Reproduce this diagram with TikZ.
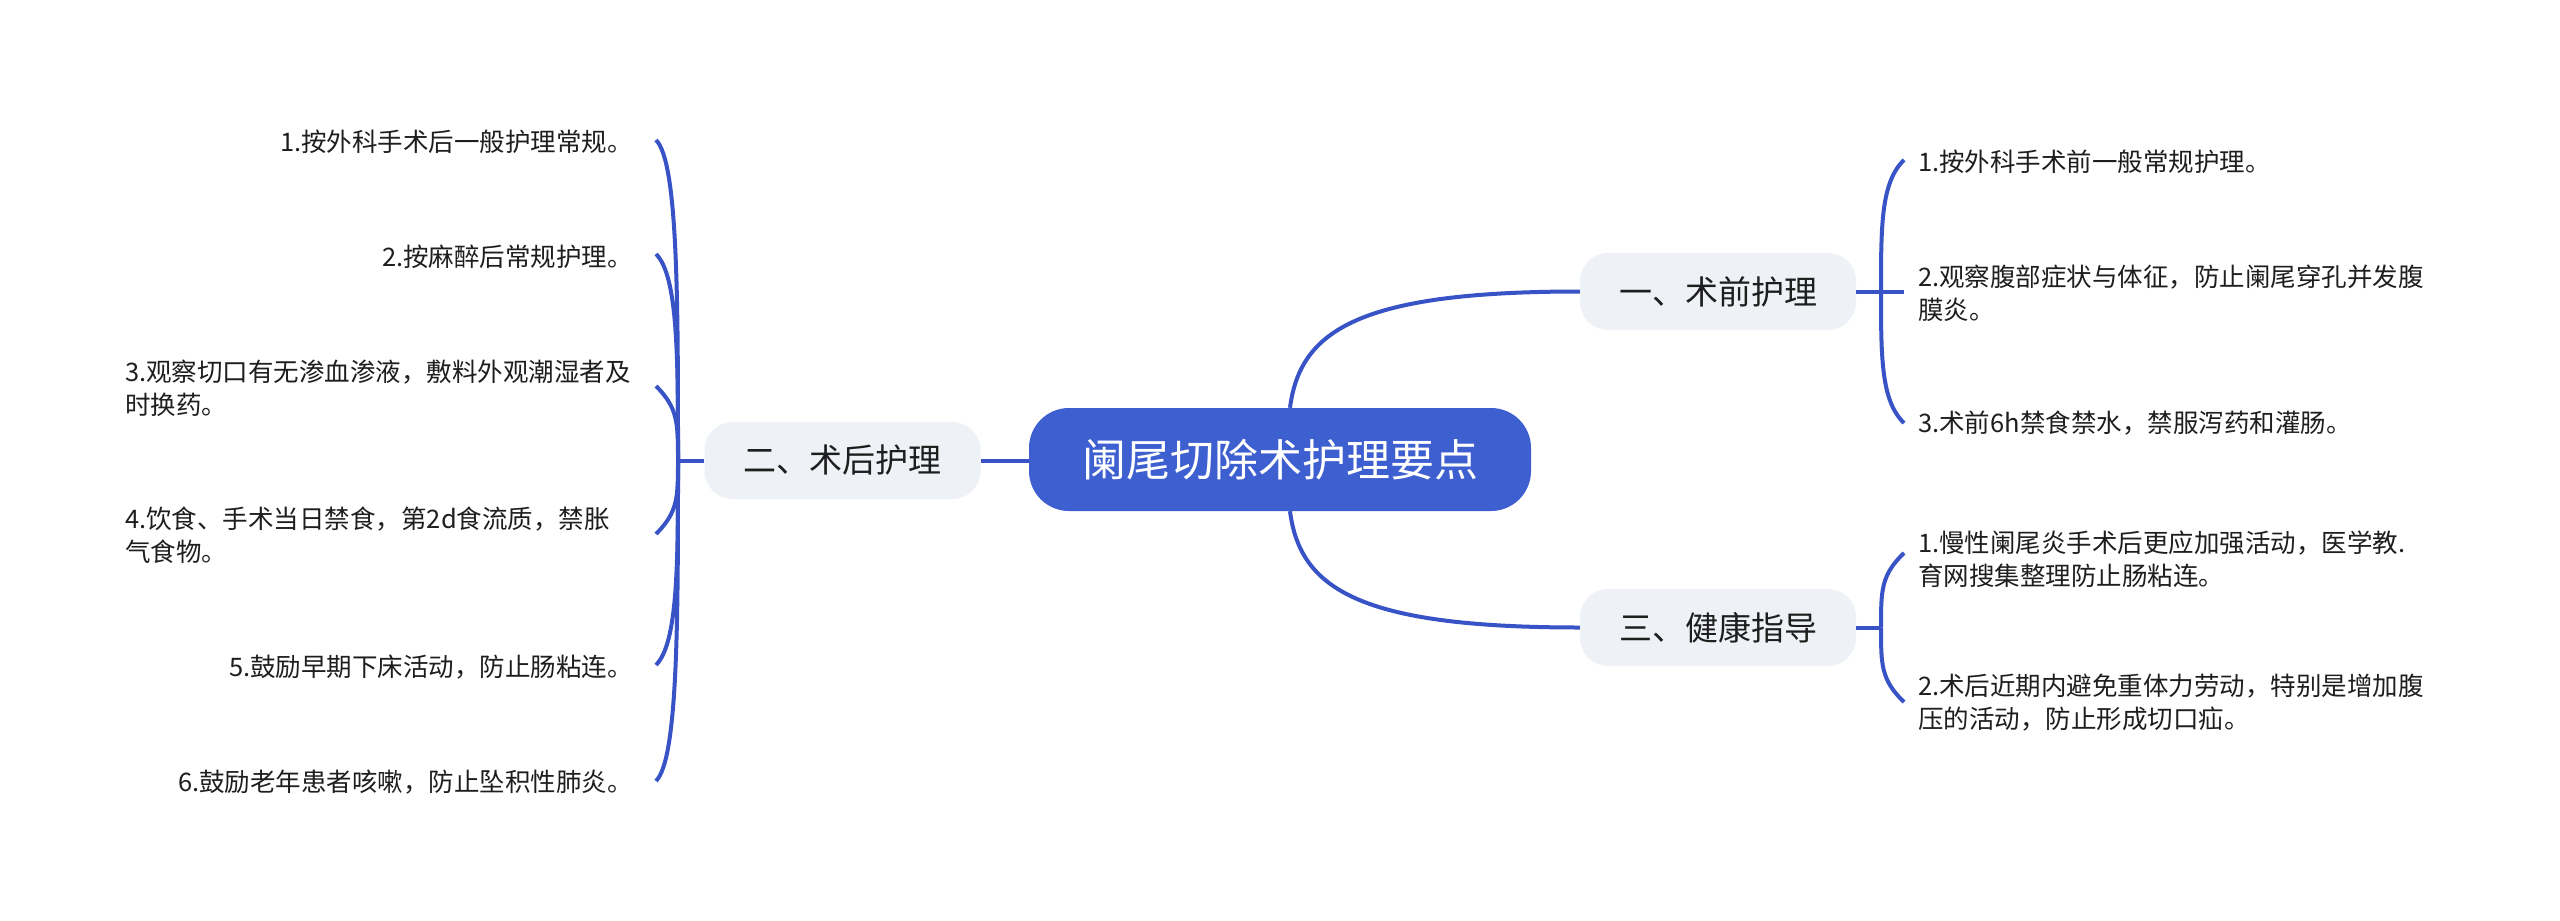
\documentclass[tikz,border=0pt]{standalone}
\usepackage{fontspec}
\setmainfont{Noto Sans CJK SC}
\usetikzlibrary{calc}
\definecolor{mainblue}{HTML}{3D5FCF}
\definecolor{lineblue}{HTML}{3753C6}
\definecolor{subfill}{HTML}{EEF1F5}
\definecolor{txt}{HTML}{1E1E1E}
\begin{document}
\begin{tikzpicture}[x=1pt,y=-1pt,
  conn/.style={draw=lineblue, line width=4pt},
  central/.style={fill=mainblue, rounded corners=40pt, minimum width=502pt, minimum height=103pt, inner sep=0pt, text=white, font=\fontsize{44}{52}\selectfont},
  branch/.style={fill=subfill, rounded corners=28pt, minimum width=276pt, minimum height=77pt, inner sep=0pt, text=txt, font=\fontsize{33}{40}\selectfont},
  leaf/.style={align=left, inner sep=0pt, text=txt, font=\fontsize{25.5}{33}\selectfont},
  leafL/.style={leaf, anchor=east},
  leafR/.style={leaf, anchor=west},
]
\useasboundingbox[fill=white] (0,0) rectangle (2560,921);

% main nodes
\node[central] (c) at (1280,459.5) {阑尾切除术护理要点};
\node[branch] (b1) at (1718,291.5) {一、术前护理};
\node[branch] (b2) at (842.5,460.5) {二、术后护理};
\node[branch] (b3) at (1718,627.5) {三、健康指导};

% left leaves
\node[leafL] (l1) at (633,142) {1.按外科手术后一般护理常规。};
\node[leafL] (l2) at (633,257) {2.按麻醉后常规护理。};
\node[leaf, anchor=west] (l3) at (125,388) {3.观察切口有无渗血渗液，敷料外观潮湿者及\\时换药。};
\node[leaf, anchor=west] (l4) at (125,535) {4.饮食、手术当日禁食，第2d食流质，禁胀\\气食物。};
\node[leafL] (l5) at (633,667) {5.鼓励早期下床活动，防止肠粘连。};
\node[leafL] (l6) at (633,782) {6.鼓励老年患者咳嗽，防止坠积性肺炎。};

% right leaves
\node[leafR] (r1) at (1918,162) {1.按外科手术前一般常规护理。};
\node[leafR] (r2) at (1918,293) {2.观察腹部症状与体征，防止阑尾穿孔并发腹\\膜炎。};
\node[leafR] (r3) at (1918,423) {3.术前6h禁食禁水，禁服泻药和灌肠。};
\node[leafR] (r4) at (1918,559) {1.慢性阑尾炎手术后更应加强活动，医学教.\\育网搜集整理防止肠粘连。};
\node[leafR] (r5) at (1918,703) {2.术后近期内避免重体力劳动，特别是增加腹\\压的活动，防止形成切口疝。};

% junctions and hook ends
\coordinate (jL) at (678,460.5);
\coordinate (hl1) at (656,140);
\coordinate (hl2) at (656,254);
\coordinate (hl3) at (656,386);
\coordinate (hl4) at (656,534);
\coordinate (hl5) at (656,665);
\coordinate (hl6) at (656,781);
\coordinate (jR1) at (1881,291.5);
\coordinate (hr1) at (1904,160);
\coordinate (hr2) at (1904,291.5);
\coordinate (hr3) at (1904,423);
\coordinate (jR3) at (1881,627.5);
\coordinate (hr4) at (1904,553);
\coordinate (hr5) at (1904,702);

% central connectors
\draw[conn] (b2.east) -- (c.west |- b2.east);
\draw[conn] ([xshift=10pt]c.north) .. controls +(10,-78) and ($(b1.west)+(-220,0)$) .. (b1.west);
\draw[conn] ([xshift=10pt]c.south) .. controls +(10,78) and ($(b3.west)+(-220,0)$) .. (b3.west);

% left bracket
\draw[conn] (b2.west) -- (jL);
\foreach \h in {hl1,hl2,hl3,hl4,hl5,hl6}{
  \draw[conn] (jL) .. controls ($(jL)!0.5!(jL|-\h)$) and ($(jL|-\h)!22pt!(jL)$) .. (\h);
}

% right brackets
\draw[conn] (b1.east) -- (hr2);
\foreach \h in {hr1,hr3}{
  \draw[conn] (jR1) .. controls ($(jR1)!0.5!(jR1|-\h)$) and ($(jR1|-\h)!22pt!(jR1)$) .. (\h);
}
\draw[conn] (b3.east) -- (jR3);
\foreach \h in {hr4,hr5}{
  \draw[conn] (jR3) .. controls ($(jR3)!0.5!(jR3|-\h)$) and ($(jR3|-\h)!22pt!(jR3)$) .. (\h);
}
\end{tikzpicture}
\end{document}
